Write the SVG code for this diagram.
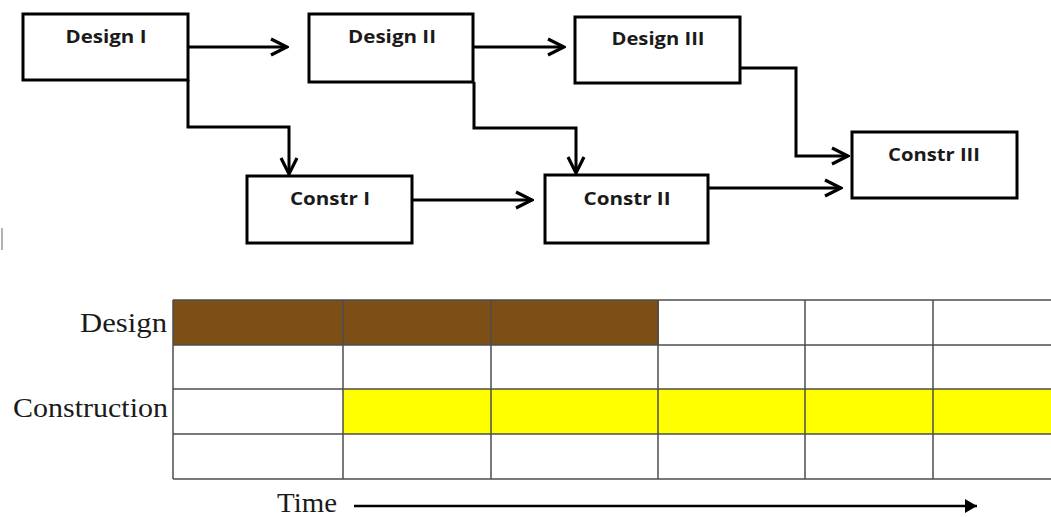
<svg xmlns="http://www.w3.org/2000/svg" width="1051" height="517" viewBox="0 0 1051 517">
  <style>
    .box { fill: #ffffff; stroke: #000000; stroke-width: 3; }
    .lbl { font-family: "Open Sans", "Liberation Sans", sans-serif; font-weight: bold; font-size: 18px; fill: #1a1a1a; text-anchor: middle; }
    .wire { fill: none; stroke: #000000; stroke-width: 3; }
    .grid { fill: none; stroke: #4d4d4d; stroke-width: 1.5; }
    .row { font-family: "Liberation Serif", "Times New Roman", serif; font-size: 28px; fill: #1a1a1a; }
  </style>
  <defs>
    <marker id="chev" markerUnits="userSpaceOnUse" viewBox="-20 -11 22 22" refX="0" refY="0" markerWidth="22" markerHeight="22" orient="auto">
      <path d="M-16,-8 L0,0 L-16,8" fill="none" stroke="#000000" stroke-width="3.2" stroke-linejoin="miter"/>
    </marker>
    <marker id="tri" markerUnits="userSpaceOnUse" viewBox="-14 -8 14 16" refX="0" refY="0" markerWidth="14" markerHeight="16" orient="auto">
      <path d="M-12,-7 L0,0 L-12,7 Z" fill="#000000"/>
    </marker>
  </defs>

  <rect width="1051" height="517" fill="#ffffff"/>

  <!-- precedence network -->
  <g id="connectors">
    <path class="wire" d="M188,47 H287" marker-end="url(#chev)"/>
    <path class="wire" d="M188,80 V127 H289 V174" marker-end="url(#chev)"/>
    <path class="wire" d="M473,47 H564" marker-end="url(#chev)"/>
    <path class="wire" d="M474,82 V128 H576 V173" marker-end="url(#chev)"/>
    <path class="wire" d="M412,200 H532" marker-end="url(#chev)"/>
    <path class="wire" d="M708,188 H841" marker-end="url(#chev)"/>
    <path class="wire" d="M740,68 H796 V156 H848" marker-end="url(#chev)"/>
  </g>

  <g id="design-1">
    <rect class="box" x="23" y="14" width="165" height="66"/>
    <text class="lbl" x="106" y="43" textLength="81" lengthAdjust="spacingAndGlyphs">Design I</text>
  </g>
  <g id="design-2">
    <rect class="box" x="309" y="14" width="164" height="68"/>
    <text class="lbl" x="392" y="43" textLength="88" lengthAdjust="spacingAndGlyphs">Design II</text>
  </g>
  <g id="design-3">
    <rect class="box" x="575" y="17" width="165" height="66"/>
    <text class="lbl" x="658" y="45" textLength="93" lengthAdjust="spacingAndGlyphs">Design III</text>
  </g>
  <g id="constr-1">
    <rect class="box" x="247" y="176" width="165" height="67"/>
    <text class="lbl" x="330" y="205" textLength="80" lengthAdjust="spacingAndGlyphs">Constr I</text>
  </g>
  <g id="constr-2">
    <rect class="box" x="545" y="175" width="163" height="68"/>
    <text class="lbl" x="627" y="205" textLength="87" lengthAdjust="spacingAndGlyphs">Constr II</text>
  </g>
  <g id="constr-3">
    <rect class="box" x="852" y="132" width="165" height="66"/>
    <text class="lbl" x="934" y="161" textLength="92" lengthAdjust="spacingAndGlyphs">Constr III</text>
  </g>

  <!-- small stray mark at the left margin -->
  <line x1="2" y1="228" x2="2" y2="250" stroke="#9a9a9a" stroke-width="1.5"/>

  <!-- bar chart -->
  <g id="schedule">
    <rect x="173" y="300" width="486" height="45" fill="#7b4f16"/>
    <rect x="343" y="389" width="708" height="45" fill="#ffff00"/>
    <path class="grid" d="M173,300 H1051 M173,345 H1051 M173,389 H1051 M173,434 H1051 M173,479 H1051"/>
    <path class="grid" d="M173,300 V479 M343,300 V479 M491,300 V479 M658,300 V479 M805,300 V479 M933,300 V479"/>
    <text class="row" x="167" y="332" text-anchor="end" textLength="87" lengthAdjust="spacingAndGlyphs">Design</text>
    <text class="row" x="168" y="417" text-anchor="end" textLength="155" lengthAdjust="spacingAndGlyphs">Construction</text>
  </g>

  <g id="time-axis">
    <text class="row" x="277" y="512" textLength="60" lengthAdjust="spacingAndGlyphs">Time</text>
    <path d="M354,506 H977" stroke="#000000" stroke-width="2.5" fill="none" marker-end="url(#tri)"/>
  </g>
</svg>
